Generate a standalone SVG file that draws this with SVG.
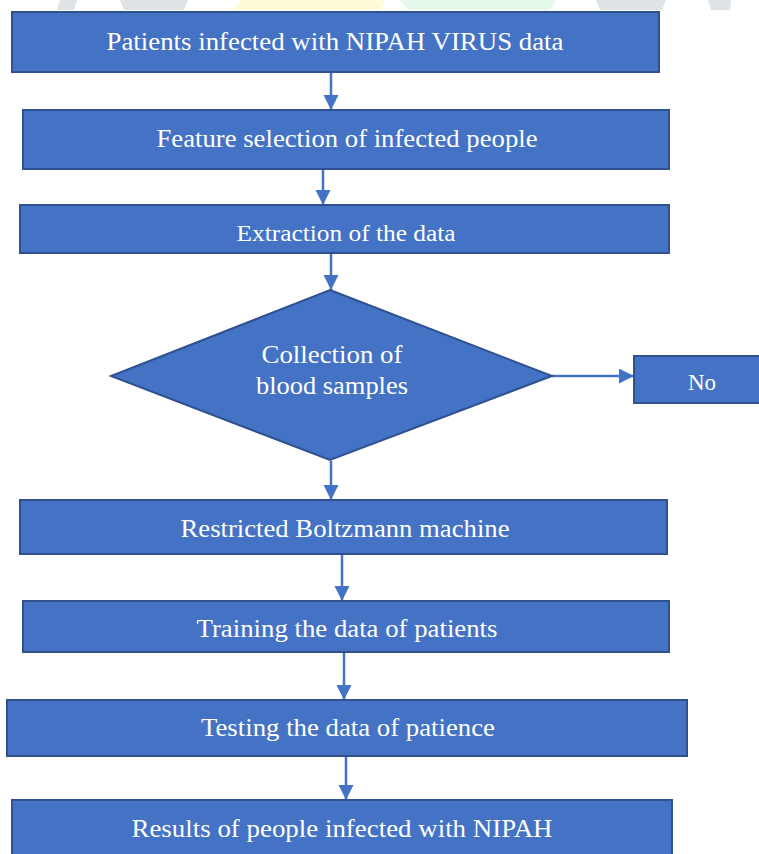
<svg xmlns="http://www.w3.org/2000/svg" width="759" height="854" viewBox="0 0 759 854">
<defs>
<style>
.box{fill:#4472C4;stroke:#2F528F;stroke-width:2}
.t{font-family:"Liberation Serif","Times New Roman",serif;font-size:25px;fill:#ffffff;text-anchor:middle}
.c{stroke:#4472C4;stroke-width:2.5;fill:none}
.wg{fill:#dfe3e6}
</style>
<marker id="ah" markerWidth="16" markerHeight="16" refX="15" refY="7.5" orient="auto" markerUnits="userSpaceOnUse">
<path d="M0,0 L15,7.5 L0,15 Z" fill="#4472C4"/>
</marker>
</defs>
<rect width="759" height="854" fill="#ffffff"/>
<g id="watermark">
<polygon class="wg" points="60,0 77,0 74,10 57,10"/>
<polygon class="wg" points="120,0 188,0 184,10 124,10"/>
<polygon fill="#fffbd8" points="240,0 386,0 380,10 233,10"/>
<polygon fill="#e4f9ea" points="400,0 556,0 550,10 408,10"/>
<polygon class="wg" points="596,0 666,0 662,10 600,10"/>
<polygon class="wg" points="708,0 731,0 730,10 711,10"/>
</g>
<g id="connectors">
<line class="c" x1="331" y1="73" x2="331" y2="110" marker-end="url(#ah)"/>
<line class="c" x1="323" y1="170" x2="323" y2="205" marker-end="url(#ah)"/>
<line class="c" x1="331" y1="254" x2="331" y2="290" marker-end="url(#ah)"/>
<line class="c" x1="331" y1="461" x2="331" y2="500" marker-end="url(#ah)"/>
<line class="c" x1="552" y1="376" x2="634" y2="376" marker-end="url(#ah)"/>
<line class="c" x1="342" y1="555" x2="342" y2="601" marker-end="url(#ah)"/>
<line class="c" x1="344" y1="653" x2="344" y2="700" marker-end="url(#ah)"/>
<line class="c" x1="346" y1="757" x2="346" y2="800" marker-end="url(#ah)"/>
</g>
<g id="n1">
<rect class="box" x="12" y="12" width="647" height="60" stroke-width="3"/>
<text class="t" x="335" y="50" textLength="457" lengthAdjust="spacingAndGlyphs">Patients infected with NIPAH VIRUS data</text>
</g>
<g id="n2">
<rect class="box" x="23" y="110" width="646" height="59"/>
<text class="t" x="347" y="147" textLength="381" lengthAdjust="spacingAndGlyphs">Feature selection of infected people</text>
</g>
<g id="n3">
<rect class="box" x="20" y="205" width="649" height="48"/>
<text class="t" x="346" y="241" textLength="219" lengthAdjust="spacingAndGlyphs" style="font-size:23px">Extraction of the data</text>
</g>
<g id="n4">
<polygon class="box" points="330,290 552,376 330,460 111,376"/>
<text class="t" x="332" y="363" textLength="141" lengthAdjust="spacingAndGlyphs">Collection of</text>
<text class="t" x="332" y="394" textLength="152" lengthAdjust="spacingAndGlyphs">blood samples</text>
</g>
<g id="n5">
<rect class="box" x="634" y="356" width="130" height="47"/>
<text class="t" x="702" y="390" style="font-size:23px">No</text>
</g>
<g id="n6">
<rect class="box" x="20" y="500" width="647" height="54"/>
<text class="t" x="345" y="537" textLength="329" lengthAdjust="spacingAndGlyphs">Restricted Boltzmann machine</text>
</g>
<g id="n7">
<rect class="box" x="23" y="601" width="646" height="51"/>
<text class="t" x="347" y="637" textLength="301" lengthAdjust="spacingAndGlyphs">Training the data of patients</text>
</g>
<g id="n8">
<rect class="box" x="7" y="700" width="680" height="56"/>
<text class="t" x="348" y="736" textLength="294" lengthAdjust="spacingAndGlyphs">Testing the data of patience</text>
</g>
<g id="n9">
<rect class="box" x="12" y="800" width="660" height="60"/>
<text class="t" x="342" y="837" textLength="421" lengthAdjust="spacingAndGlyphs">Results of people infected with NIPAH</text>
</g>
</svg>
